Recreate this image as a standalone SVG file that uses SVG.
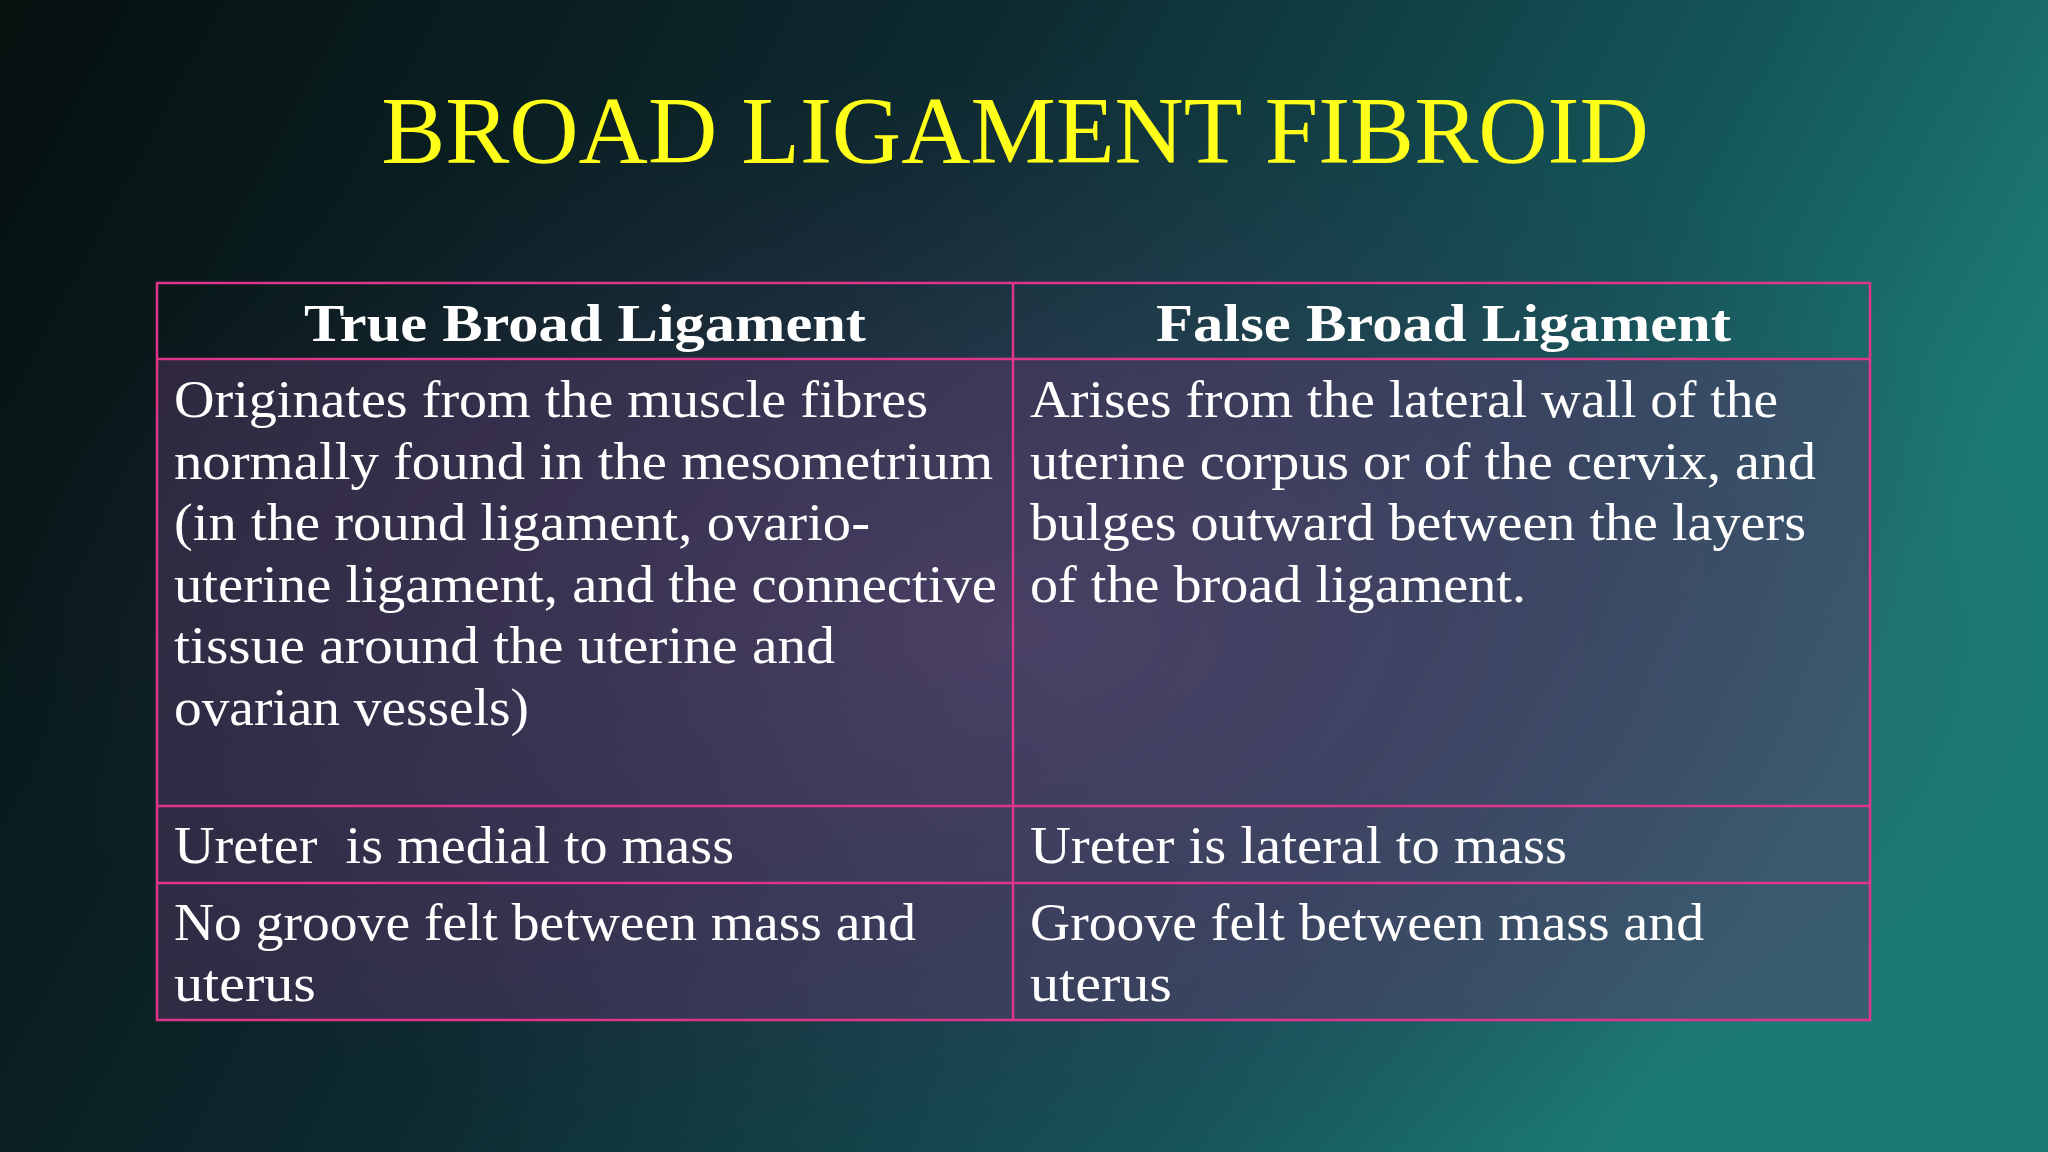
<svg xmlns="http://www.w3.org/2000/svg" width="2048" height="1152" viewBox="0 0 2048 1152">
<defs>
<linearGradient id="bg" x1="0" y1="0" x2="1" y2="0.3">
<stop offset="0" stop-color="#06100f"/>
<stop offset="0.45" stop-color="#0d2a30"/>
<stop offset="0.8" stop-color="#14565a"/>
<stop offset="1" stop-color="#1c7a74"/>
</linearGradient>
<radialGradient id="glow" cx="0.5" cy="0.55" r="0.5">
<stop offset="0" stop-color="#5a4c74" stop-opacity="0.6"/>
<stop offset="1" stop-color="#3a2a50" stop-opacity="0"/>
</radialGradient>
<style>
.t{font-family:"Liberation Serif",serif;font-size:52px;fill:#ffffff}
.h{font-family:"Liberation Serif",serif;font-size:52px;font-weight:bold;fill:#ffffff}
.ln{stroke:#e0358a;stroke-width:2.5;fill:none}
</style>
</defs>
<rect width="2048" height="1152" fill="url(#bg)"/>
<rect width="2048" height="1152" fill="url(#glow)"/>
<text x="1015" y="163" text-anchor="middle" font-family="Liberation Serif, serif" font-size="96" fill="#ffff1a">BROAD LIGAMENT FIBROID</text>
<g id="table">
<rect x="157" y="359" width="1713" height="661" fill="#5a3a6a" fill-opacity="0.45"/>
<rect x="157" y="283" width="1713" height="737" class="ln"/>
<line x1="157" y1="359" x2="1870" y2="359" class="ln" stroke-width="4"/>
<line x1="157" y1="806" x2="1870" y2="806" class="ln"/>
<line x1="157" y1="883" x2="1870" y2="883" class="ln"/>
<line x1="1013" y1="283" x2="1013" y2="1020" class="ln"/>
</g>
<g id="header">
<text x="304" y="341" class="h" textLength="562" lengthAdjust="spacingAndGlyphs">True Broad Ligament</text>
<text x="1156" y="341" class="h" textLength="575" lengthAdjust="spacingAndGlyphs">False Broad Ligament</text>
</g>
<g id="row1">
<text class="t" x="174" y="417" textLength="754" lengthAdjust="spacingAndGlyphs">Originates from the muscle fibres</text>
<text class="t" x="174" y="479" textLength="819" lengthAdjust="spacingAndGlyphs">normally found in the mesometrium</text>
<text class="t" x="174" y="540" textLength="696" lengthAdjust="spacingAndGlyphs">(in the round ligament, ovario-</text>
<text class="t" x="174" y="602" textLength="823" lengthAdjust="spacingAndGlyphs">uterine ligament, and the connective</text>
<text class="t" x="174" y="663" textLength="661" lengthAdjust="spacingAndGlyphs">tissue around the uterine and</text>
<text class="t" x="174" y="725" textLength="355" lengthAdjust="spacingAndGlyphs">ovarian vessels)</text>
<text class="t" x="1030" y="417" textLength="748" lengthAdjust="spacingAndGlyphs">Arises from the lateral wall of the</text>
<text class="t" x="1030" y="479" textLength="786" lengthAdjust="spacingAndGlyphs">uterine corpus or of the cervix, and</text>
<text class="t" x="1030" y="540" textLength="776" lengthAdjust="spacingAndGlyphs">bulges outward between the layers</text>
<text class="t" x="1030" y="602" textLength="496" lengthAdjust="spacingAndGlyphs">of the broad ligament.</text>
</g>
<g id="row2">
<text class="t" x="174" y="863" xml:space="preserve" textLength="560" lengthAdjust="spacingAndGlyphs">Ureter  is medial to mass</text>
<text class="t" x="1030" y="863" textLength="537" lengthAdjust="spacingAndGlyphs">Ureter is lateral to mass</text>
</g>
<g id="row3">
<text class="t" x="174" y="940" textLength="742" lengthAdjust="spacingAndGlyphs">No groove felt between mass and</text>
<text class="t" x="174" y="1001" textLength="142" lengthAdjust="spacingAndGlyphs">uterus</text>
<text class="t" x="1030" y="940" textLength="674" lengthAdjust="spacingAndGlyphs">Groove felt between mass and</text>
<text class="t" x="1030" y="1001" textLength="142" lengthAdjust="spacingAndGlyphs">uterus</text>
</g>
</svg>
